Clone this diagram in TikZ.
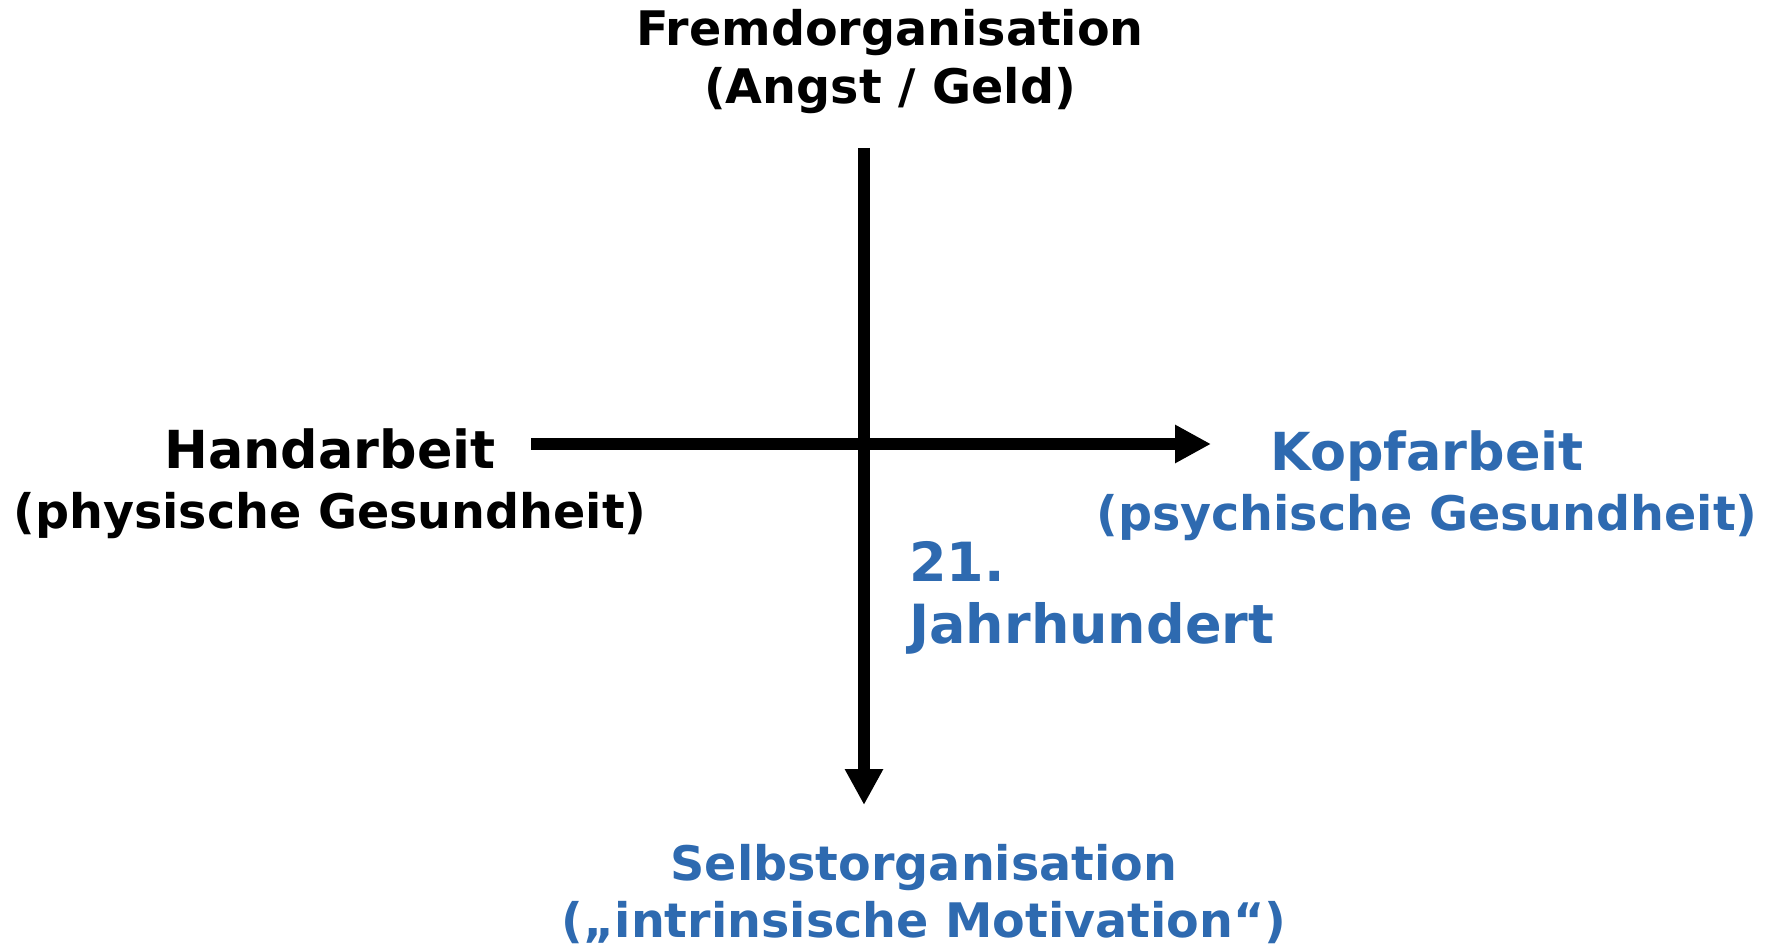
\documentclass[tikz,border=0pt]{standalone}
\usepackage{fontspec}
\setmainfont{DejaVu Sans}
\usetikzlibrary{arrows.meta}
\definecolor{kopfblau}{RGB}{46,106,176}

\begin{document}
\begin{tikzpicture}[x=0.5pt, y=0.5pt, >={Triangle[length=18pt, width=18pt]},
		every node/.style={font=\bfseries\fontsize{23.8}{29}\selectfont, align=center, inner sep=0pt},
		blau/.style={text=kopfblau},
		gross/.style={font=\bfseries\fontsize{26.2}{30}\selectfont}]
		\useasboundingbox (0, 0) rectangle (1777, -945);

		\node at (890, -62) (fremd) {Fremdorganisation\\(Angst / Geld)};
		\node at (330, -484) [gross] (hand) {Handarbeit\\{\fontsize{23.8}{30}\selectfont(physische Gesundheit)}};
		\node at (1427, -486) [gross, blau] (kopf) {Kopfarbeit\\{\fontsize{23.8}{30}\selectfont(psychische Gesundheit)}};
		\node at (909, -598) [blau, anchor=west, align=left, font=\bfseries\fontsize{27}{31}\selectfont] (jh) {21.\\Jahrhundert};
		\node at (924, -894) [blau, font=\bfseries\fontsize{23.8}{28.5}\selectfont] (selbst) {Selbstorganisation\\(„intrinsische Motivation“)};

		\coordinate (oben) at (864, -148);
		\coordinate (unten) at (864, -805);
		\coordinate (links) at (531, -444);
		\coordinate (rechts) at (1211, -444);

		\draw [->, line width=6pt] (oben) -- (unten);
		\draw [->, line width=6pt] (links) -- (rechts);
	\end{tikzpicture}
\end{document}
